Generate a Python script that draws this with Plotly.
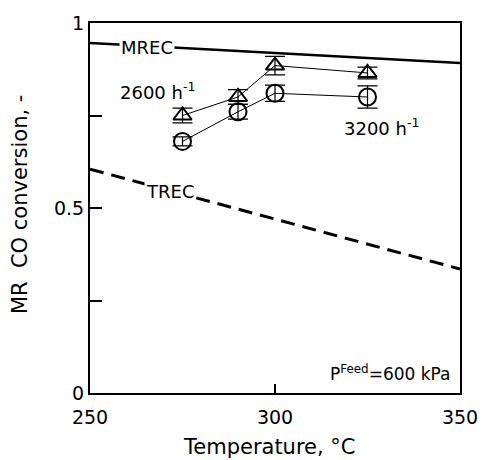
import plotly.graph_objects as go

# Data
temps = [275, 290, 300, 325]
conv_2600 = [0.75, 0.80, 0.885, 0.865]
err_2600 = [0.02, 0.02, 0.025, 0.016]
conv_3200 = [0.68, 0.76, 0.81, 0.80]
err_3200 = [0.012, 0.02, 0.022, 0.03]

mrec_temp = [250, 350]
mrec_conv = [0.946, 0.892]
trec_temp = [250, 350]
trec_conv = [0.605, 0.335]

FONT = "DejaVu Sans"

fig = go.Figure()

fig.add_trace(go.Scatter(x=mrec_temp, y=mrec_conv, mode="lines",
                         line=dict(color="black", width=2.5), showlegend=False))
fig.add_trace(go.Scatter(x=trec_temp, y=trec_conv, mode="lines",
                         line=dict(color="black", width=3, dash="14px,8px"), showlegend=False))

fig.add_trace(go.Scatter(x=temps, y=conv_2600, mode="lines+markers",
                         line=dict(color="black", width=1),
                         marker=dict(symbol="triangle-up-open", size=16, color="black",
                                     line=dict(width=2, color="black")),
                         error_y=dict(type="data", array=err_2600, color="black",
                                      thickness=1.2, width=10),
                         showlegend=False))
fig.add_trace(go.Scatter(x=temps, y=conv_3200, mode="lines+markers",
                         line=dict(color="black", width=1),
                         marker=dict(symbol="circle-open", size=17, color="black",
                                     line=dict(width=2, color="black")),
                         error_y=dict(type="data", array=err_3200, color="black",
                                      thickness=1.2, width=10),
                         showlegend=False))

ann_font = dict(family=FONT, size=18, color="black")
fig.add_annotation(x=265.5, y=0.935, text="MREC", showarrow=False, font=ann_font,
                   bgcolor="white", borderpad=1)
fig.add_annotation(x=271.5, y=0.545, text="TREC", showarrow=False, font=ann_font,
                   bgcolor="white", borderpad=1)
fig.add_annotation(x=268.3, y=0.815, text="2600 h<sup>-1</sup>", showarrow=False, font=ann_font)
fig.add_annotation(x=328.8, y=0.718, text="3200 h<sup>-1</sup>", showarrow=False, font=ann_font)
fig.add_annotation(x=348, y=0.055, xanchor="right", text="P<sup>Feed</sup>=600 kPa",
                   showarrow=False, font=dict(family=FONT, size=17, color="black"))

# Axis titles as paper annotations
title_font = dict(family=FONT, size=21, color="black")
fig.add_annotation(xref="paper", yref="paper", x=0.484, y=-0.146, text="Temperature, °C",
                   showarrow=False, font=title_font, xanchor="center", yanchor="middle")
fig.add_annotation(xref="paper", yref="paper", x=-0.189, y=0.508,
                   text="MR\u00a0 CO conversion, -", textangle=-90,
                   showarrow=False, font=title_font, xanchor="center", yanchor="middle")

fig.update_layout(
    width=485, height=460,
    margin=dict(l=90, r=25, t=23, b=67),
    paper_bgcolor="white", plot_bgcolor="white",
    font=dict(family=FONT, size=19, color="black"),
    xaxis=dict(range=[250, 350], tickvals=[250, 300, 350], ticks="inside", ticklen=9,
               tickwidth=1.5, tickcolor="black", showline=True, linewidth=2, linecolor="black",
               mirror=True, showgrid=False, zeroline=False, ticklabelstandoff=6,
               automargin=False, tickfont=dict(family=FONT, size=19)),
    yaxis=dict(range=[0, 1], tickvals=[0, 0.5, 1], ticktext=["0", "0.5", "1"],
               ticks="inside", ticklen=12, tickwidth=1.5, tickcolor="black",
               minor=dict(tickvals=[0.25, 0.75], ticks="inside", ticklen=12,
                          tickwidth=1.5, tickcolor="black"),
               showline=True, linewidth=2, linecolor="black", mirror=True,
               showgrid=False, zeroline=False, automargin=False,
               tickfont=dict(family=FONT, size=19)),
)

fig.write_html("out.html")
